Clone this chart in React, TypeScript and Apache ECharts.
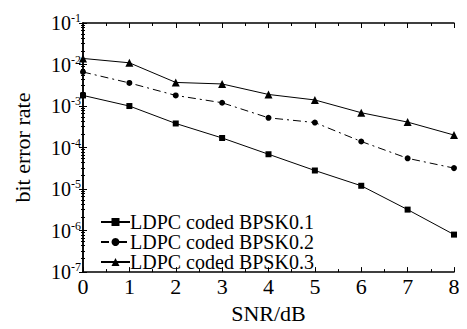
import React, { useEffect, useRef } from "react";
import * as echarts from "echarts";

const snr = [0, 1, 2, 3, 4, 5, 6, 7, 8];
const names = ["LDPC coded BPSK0.1", "LDPC coded BPSK0.2", "LDPC coded BPSK0.3"];
const ber01 = [1.8e-3, 1.0e-3, 3.8e-4, 1.7e-4, 6.9e-5, 2.8e-5, 1.2e-5, 3.2e-6, 8.0e-7];
const ber02 = [6.6e-3, 3.6e-3, 1.8e-3, 1.2e-3, 5.2e-4, 4.0e-4, 1.4e-4, 5.5e-5, 3.2e-5];
const ber03 = [1.4e-2, 1.1e-2, 3.7e-3, 3.4e-3, 1.9e-3, 1.4e-3, 6.9e-4, 4.1e-4, 2.0e-4];

const FONT = "Liberation Serif";

export default function App() {
  const ref = useRef<HTMLDivElement>(null);
  useEffect(() => {
    const chart = echarts.init(ref.current!, undefined, { renderer: "svg" });
    const mk = (d: number[]) => snr.map((x, i) => [x, d[i]]);
    const lineCommon = {
      type: "line",
      color: "#000",
      lineStyle: { color: "#000", width: 1 },
      itemStyle: { color: "#000" },
    };
    const axisLine = { lineStyle: { color: "#000", width: 1.5 } };
    chart.setOption({
      animation: false,
      backgroundColor: "#fff",
      textStyle: { fontFamily: FONT, color: "#000" },
      grid: { left: 83, right: 13, top: 23, bottom: 47 },
      legend: {
        left: 100,
        top: 212,
        padding: 0,
        orient: "vertical",
        itemGap: 0,
        itemWidth: 29,
        itemHeight: 10,
        textStyle: {
          fontFamily: FONT,
          fontSize: 20,
          color: "#000",
          padding: [0, 0, 0, -5],
        },
        data: names,
      },
      xAxis: [
        {
          type: "value",
          min: 0,
          max: 8,
          interval: 1,
          name: "SNR/dB",
          nameLocation: "middle",
          nameGap: 23,
          nameTextStyle: { fontFamily: FONT, fontSize: 22, color: "#000" },
          axisLine,
          axisTick: { inside: true, length: 5, lineStyle: { color: "#000" } },
          minorTick: { show: true, splitNumber: 2, length: 3, lineStyle: { color: "#000" } },
          axisLabel: { fontFamily: FONT, fontSize: 22, color: "#000", margin: 3 },
          splitLine: { show: false },
        },
        {
          type: "value",
          position: "top",
          min: 0,
          max: 8,
          interval: 1,
          axisLine,
          axisTick: { inside: true, length: 5, lineStyle: { color: "#000" } },
          minorTick: { show: true, splitNumber: 2, length: 3, lineStyle: { color: "#000" } },
          axisLabel: { show: false },
          splitLine: { show: false },
        },
      ],
      yAxis: [
        {
          type: "log",
          logBase: 10,
          min: 1e-7,
          max: 1e-1,
          name: "bit error rate",
          nameLocation: "middle",
          nameGap: 50,
          nameTextStyle: { fontFamily: FONT, fontSize: 22, color: "#000" },
          axisLine,
          axisTick: { inside: true, length: 4, lineStyle: { color: "#000" } },
          minorTick: { show: true, splitNumber: 8, length: 2, lineStyle: { color: "#000" } },
          axisLabel: {
            margin: 2,
            formatter: (v: number) => {
              const e = Math.round(Math.log10(v));
              return `{b|10}{s|${e}}`;
            },
            rich: {
              b: { fontFamily: FONT, fontSize: 20, color: "#000" },
              s: {
                fontFamily: FONT,
                fontSize: 12,
                color: "#000",
                verticalAlign: "top",
                padding: [0, 0, 10, 0],
              },
            },
          },
          splitLine: { show: false },
        },
        {
          type: "log",
          logBase: 10,
          min: 1e-7,
          max: 1e-1,
          position: "right",
          axisLine,
          axisTick: { inside: true, length: 4, lineStyle: { color: "#000" } },
          minorTick: { show: true, splitNumber: 8, length: 2, lineStyle: { color: "#000" } },
          axisLabel: { show: false },
          splitLine: { show: false },
        },
      ],
      series: [
        { ...lineCommon, name: names[0], data: mk(ber01), symbol: "rect", symbolSize: 6 },
        {
          ...lineCommon,
          name: names[1],
          data: mk(ber02),
          symbol: "circle",
          symbolSize: 6,
          lineStyle: { color: "#000", width: 1, type: [8, 4, 2, 4] },
        },
        { ...lineCommon, name: names[2], data: mk(ber03), symbol: "triangle", symbolSize: 8 },
      ],
    });
    return () => chart.dispose();
  }, []);
  return <div ref={ref} style={{ width: 467, height: 329, margin: -8 }} />;
}
